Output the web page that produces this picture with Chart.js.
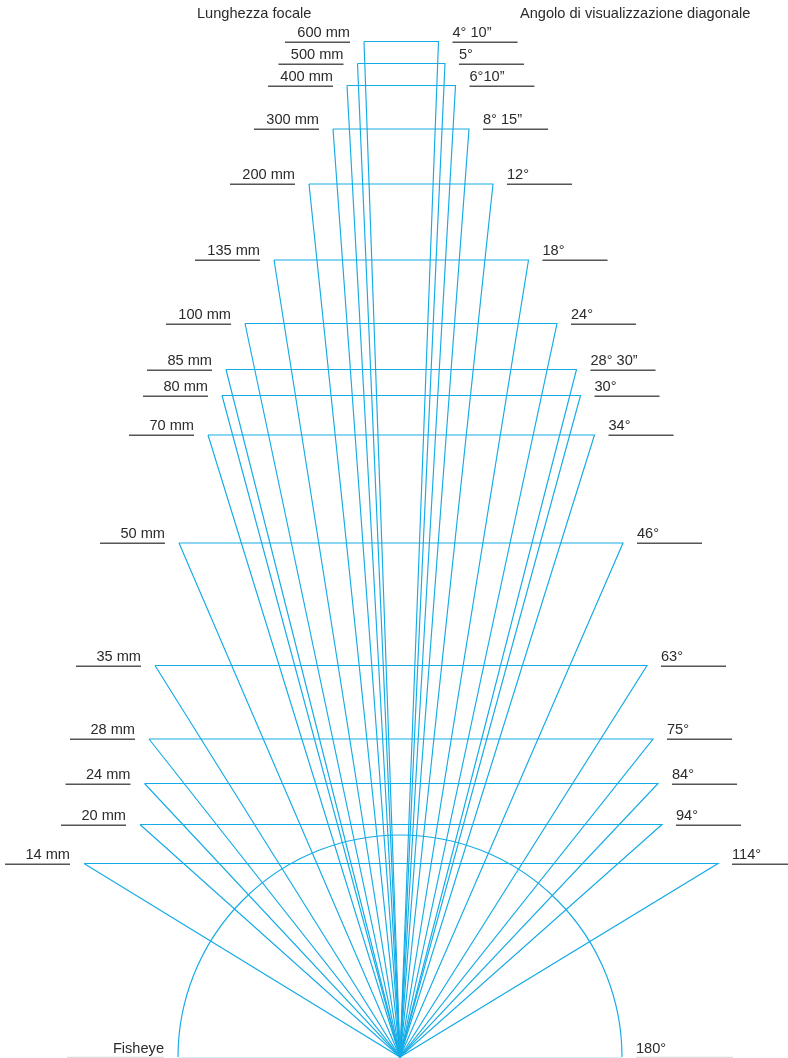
<!DOCTYPE html>
<html>
<head>
<meta charset="utf-8">
<script src="https://cdn.jsdelivr.net/npm/chart.js@4/dist/chart.umd.min.js"></script>
<style>
  html, body { margin: 0; padding: 0; background: #fff; }
  #wrap { width: 788px; height: 1058px; }
</style>
</head>
<body>
<div id="wrap"><canvas id="chart" width="788" height="1058"></canvas></div>
<script>
// focal lengths (left) and diagonal angle of view (right)
const focalLabels = ['600 mm', '500 mm', '400 mm', '300 mm', '200 mm', '135 mm', '100 mm', '85 mm',
    '80 mm', '70 mm', '50 mm', '35 mm', '28 mm', '24 mm', '20 mm', '14 mm'];
const angleLabels = ['4° 10”', '5°', '6°10”', '8° 15”', '12°', '18°', '24°', '28° 30”',
    '30°', '34°', '46°', '63°', '75°', '84°', '94°', '114°'];
// top edge of each triangle and its two corners (diagram units)
const topY = [41.5, 63.5, 85.5, 129, 184, 260, 323.5, 369.5, 395.5, 435, 543, 665.5, 739, 783.5, 824.5, 863.5];
const leftX = [364, 357.5, 347, 333, 309, 274, 245, 226, 222, 208, 179, 155, 149, 144.5, 140, 84];
const rightX = [438.5, 445, 455.5, 469, 493, 528.5, 557, 576.5, 580.5, 594.5, 623, 647, 653, 658, 662, 718];
// common apex (the lens) and the fisheye half circle
const apex = { x: 400, y: 1057 };
const fisheyeRadius = 222;
const fisheyeLabels = ['Fisheye', '180°'];
const titles = ['Lunghezza focale', 'Angolo di visualizzazione diagonale'];

const blue = '#14abe6';
const ink = '#2b2b2b';
const font = '14.6px "Liberation Sans", Arial, sans-serif';

const datasets = focalLabels.map((name, i) => ({
    label: name,
    data: [
        { x: leftX[i], y: topY[i] },
        { x: apex.x, y: apex.y },
        { x: rightX[i], y: topY[i] },
        { x: leftX[i], y: topY[i] }
    ],
    showLine: true,
    borderColor: blue,
    borderWidth: 1.15,
    pointRadius: 0,
    tension: 0
}));

const arcPlugin = {
    id: 'fisheye',
    beforeDatasetsDraw(chart) {
        const { ctx, scales: { x, y } } = chart;
        const cx = x.getPixelForValue(apex.x);
        const cy = y.getPixelForValue(apex.y);
        const r = x.getPixelForValue(apex.x + fisheyeRadius) - cx;
        ctx.save();
        ctx.strokeStyle = blue;
        ctx.lineWidth = 1.15;
        ctx.beginPath();
        ctx.arc(cx, cy, r, Math.PI, 2 * Math.PI);
        ctx.stroke();
        // faint base line
        ctx.strokeStyle = '#d6eef9';
        ctx.beginPath();
        ctx.moveTo(cx - r, cy + 0.5);
        ctx.lineTo(cx + r, cy + 0.5);
        ctx.stroke();
        ctx.restore();
    }
};

const labelPlugin = {
    id: 'labels',
    afterDatasetsDraw(chart) {
        const { ctx, scales: { x, y } } = chart;
        ctx.save();
        ctx.font = font;
        ctx.fillStyle = ink;
        ctx.textBaseline = 'alphabetic';

        // titles
        ctx.textAlign = 'left';
        ctx.fillText(titles[0], 197, 18);
        ctx.fillText(titles[1], 520, 18);

        focalLabels.forEach((name, i) => {
            const py = Math.round(y.getPixelForValue(topY[i])) + 0.25;
            const lx = x.getPixelForValue(leftX[i]) - 14;
            const rx = x.getPixelForValue(rightX[i]) + 14;

            ctx.strokeStyle = '#555';
            ctx.lineWidth = 1.5;
            ctx.beginPath();
            ctx.moveTo(lx - 65, py);
            ctx.lineTo(lx, py);
            ctx.moveTo(rx, py);
            ctx.lineTo(Math.min(rx + 65, 788), py);
            ctx.stroke();

            ctx.textAlign = 'right';
            ctx.fillText(name, lx, py - 5);
            ctx.textAlign = 'left';
            ctx.fillText(angleLabels[i], rx, py - 5);
        });

        // fisheye labels at the base
        const r = x.getPixelForValue(apex.x + fisheyeRadius) - x.getPixelForValue(apex.x);
        const cx = x.getPixelForValue(apex.x);
        const by = y.getPixelForValue(apex.y);
        ctx.strokeStyle = '#dcdcdc';
        ctx.lineWidth = 1.5;
        ctx.beginPath();
        ctx.moveTo(cx - r - 111, by + 0.5);
        ctx.lineTo(cx - r - 14, by + 0.5);
        ctx.moveTo(cx + r + 14, by + 0.5);
        ctx.lineTo(cx + r + 111, by + 0.5);
        ctx.stroke();
        ctx.textAlign = 'right';
        ctx.fillText(fisheyeLabels[0], cx - r - 14, by - 4);
        ctx.textAlign = 'left';
        ctx.fillText(fisheyeLabels[1], cx + r + 14, by - 4);
        ctx.restore();
    }
};

new Chart(document.getElementById('chart'), {
    type: 'scatter',
    data: { datasets: datasets },
    options: {
        responsive: false,
        animation: false,
        devicePixelRatio: 1,
        layout: { padding: 0 },
        plugins: { legend: { display: false }, tooltip: { enabled: false } },
        scales: {
            x: { type: 'linear', min: 0, max: 788, display: false },
            y: { type: 'linear', min: 0, max: 1058, reverse: true, display: false }
        }
    },
    plugins: [arcPlugin, labelPlugin]
});
</script>
</body>
</html>
